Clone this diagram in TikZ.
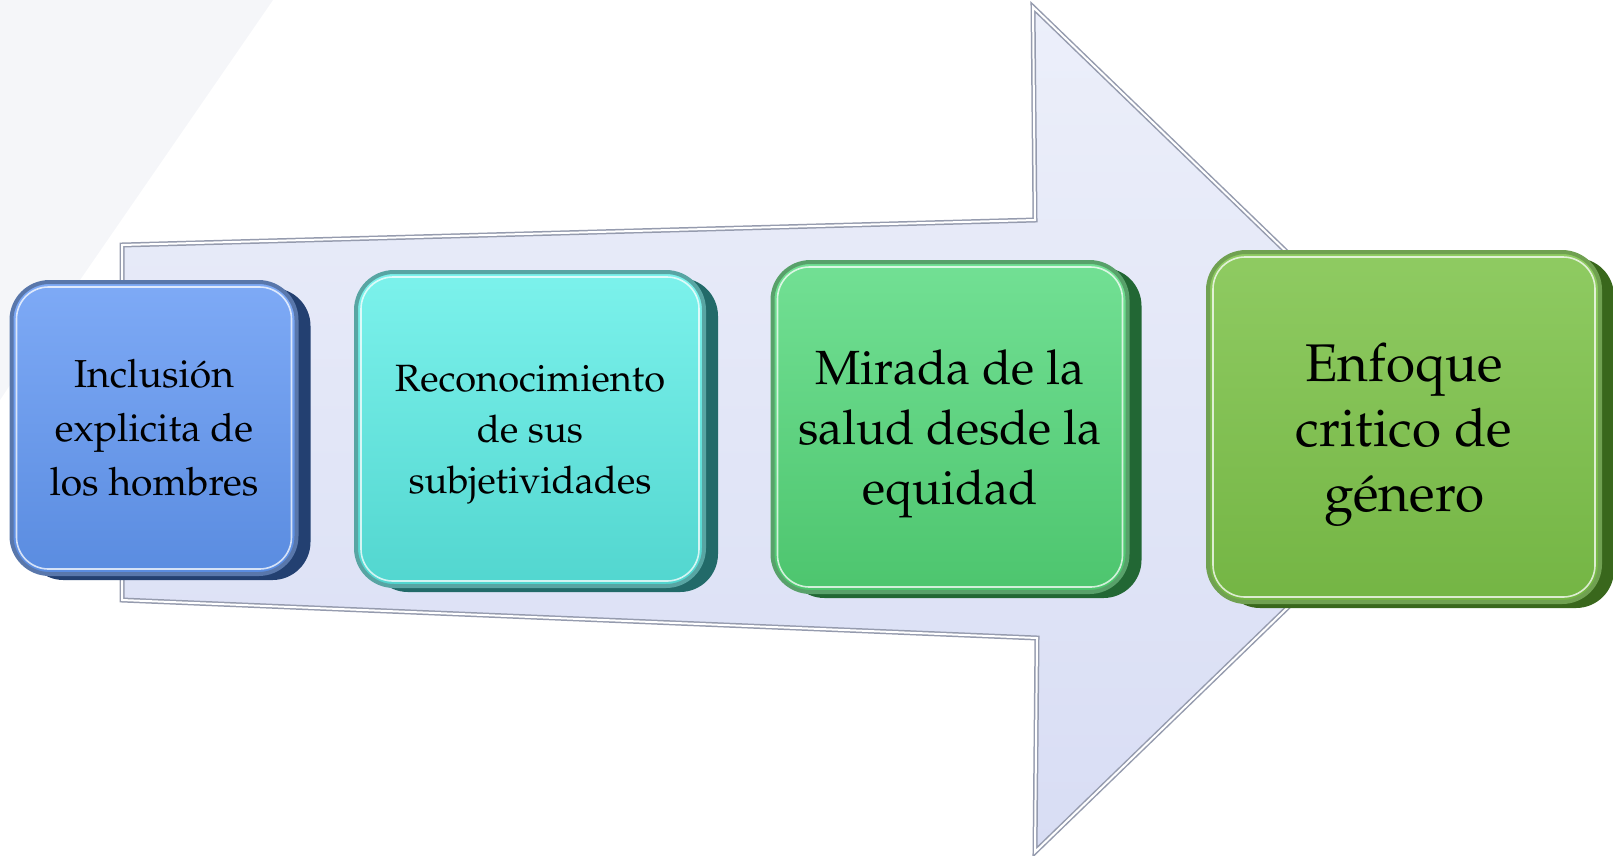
\documentclass[tikz,border=0pt]{standalone}
\usepackage[T1]{fontenc}
\usepackage{mathpazo}
\usetikzlibrary{shadows}
\definecolor{bgray}{HTML}{F5F6F9}
\definecolor{arrtop}{HTML}{ECEFFA}
\definecolor{arrbot}{HTML}{D8DDF4}
\definecolor{arredge}{HTML}{959BAE}
\definecolor{blueT}{HTML}{7EAAF6}
\definecolor{blueB}{HTML}{5A8CE0}
\definecolor{blueD}{HTML}{2F5596}
\definecolor{cyanT}{HTML}{7CF2EC}
\definecolor{cyanB}{HTML}{52D6CF}
\definecolor{cyanD}{HTML}{2E8E8C}
\definecolor{grnT}{HTML}{72E094}
\definecolor{grnB}{HTML}{4DC56E}
\definecolor{grnD}{HTML}{2E8A45}
\definecolor{limeT}{HTML}{8FCB62}
\definecolor{limeB}{HTML}{74B544}
\definecolor{limeD}{HTML}{4C8A25}
\newcommand{\up}[1]{\rule{0pt}{#1}}
\tikzset{
  stepbox/.style={rounded corners=38pt, align=center, text=black, line width=4pt,
    inner sep=0pt},
  sidecol/.style={drop shadow={shadow xshift=14pt, shadow yshift=-6pt, fill=#1, opacity=1}},
  bluebox/.style={stepbox, top color=blueT, bottom color=blueB, draw=blueD!80, sidecol=blueD!75!black},
  cyanbox/.style={stepbox, top color=cyanT, bottom color=cyanB, draw=cyanD!80, sidecol=cyanD!75!black},
  grnbox/.style={stepbox, top color=grnT, bottom color=grnB, draw=grnD!80, sidecol=grnD!75!black},
  limebox/.style={stepbox, top color=limeT, bottom color=limeB, draw=limeD!80, sidecol=limeD!75!black},
  hilite/.style={white, opacity=0.75, line width=1.6pt, rounded corners=32pt}
}
\begin{document}
\begin{tikzpicture}[x=1pt,y=-1pt]
\useasboundingbox (0,0) rectangle (1613,855);
% faint background band
\fill[bgray] (0,0) -- (273,0) -- (80,280) -- (0,400) -- cycle;
% big arrow
\path[top color=arrtop, bottom color=arrbot, draw=arredge, line width=5pt, line join=miter]
  (122,245) -- (1035,220) -- (1033,7) -- (1471,430) -- (1035,852) -- (1037,638) -- (122,600) -- cycle;
\draw[white, line width=2pt, line join=miter]
  (122,245) -- (1035,220) -- (1033,7) -- (1471,430) -- (1035,852) -- (1037,638) -- (122,600) -- cycle;
% boxes
\node[bluebox, minimum width=285pt, minimum height=292pt,
  font=\fontsize{39}{54}\selectfont] (b1) at (154,428)
  {Inclusi\'on\\explicita de\\los hombres};
\node[cyanbox, minimum width=348pt, minimum height=314pt,
  font=\fontsize{38}{51}\selectfont] (b2) at (530,429)
  {\up{38pt}Reconocimiento\\de sus\\subjetividades};
\node[grnbox, minimum width=355pt, minimum height=330pt,
  font=\fontsize{48}{60}\selectfont] (b3) at (950,427)
  {\up{49pt}Mirada de la\\salud desde la\\equidad};
\node[limebox, minimum width=392pt, minimum height=350pt,
  font=\fontsize{53}{65}\selectfont] (b4) at (1404,427)
  {\up{53pt}Enfoque\\critico de\\g\'enero};
% inner highlights
\foreach \b in {b1,b2,b3,b4}{
  \draw[hilite] ([shift={(7,7)}]\b.north west) rectangle ([shift={(-7,-7)}]\b.south east);
}
\end{tikzpicture}
\end{document}
